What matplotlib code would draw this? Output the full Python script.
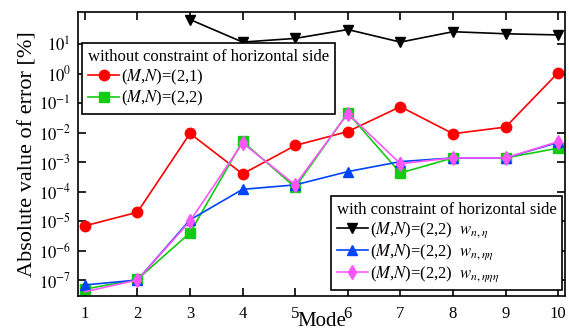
import numpy as np
import matplotlib
matplotlib.use("Agg")
import matplotlib.pyplot as plt

modes = [1, 2, 3, 4, 5, 6, 7, 8, 9, 10]
red_21 = [6.9e-6, 2.0e-5, 9.5e-3, 4.0e-4, 3.7e-3, 1.1e-2, 7.7e-2, 9.3e-3, 1.56e-2, 1.1]
green_22 = [4.9e-8, 1.05e-7, 4.0e-6, 5.1e-3, 1.4e-4, 4.7e-2, 4.3e-4, 1.4e-3, 1.4e-3, 3.0e-3]
black_eta = [np.nan, np.nan, 70, 12, 16, 32, 12, 27, 23, 21]
blue_etaeta = [6.8e-8, 1.0e-7, 1.1e-5, 1.2e-4, 1.7e-4, 4.8e-4, 1.05e-3, 1.4e-3, 1.4e-3, 4.7e-3]
mag_etaetaeta = [4.0e-8, 1.0e-7, 1.0e-5, 4.5e-3, 1.7e-4, 4.5e-2, 8.9e-4, 1.4e-3, 1.4e-3, 5.0e-3]
ytick_exps = [1, 0, -1, -2, -3, -4, -5, -6, -7]

plt.rcParams['font.family'] = ['Liberation Serif', 'DejaVu Serif']
plt.rcParams['mathtext.fontset'] = 'stix'

fig = plt.figure(figsize=(5.69, 3.34), dpi=100)
ax = fig.add_axes([0.137, 0.114, 0.856, 0.850])

lw = 1.2
ms = 7.5
l_red, = ax.plot(modes, red_21, '-o', color='#ff0000', lw=lw, ms=ms)
l_green, = ax.plot(modes, green_22, '-s', color='#11cc11', lw=lw, ms=ms)
l_black, = ax.plot(modes, black_eta, '-v', color='#000000', lw=lw, ms=ms)
l_blue, = ax.plot(modes, blue_etaeta, '-^', color='#0044ff', lw=lw, ms=ms)
l_mag, = ax.plot(modes, mag_etaetaeta, '-d', color='#ff55ff', lw=lw, ms=ms,
                 markevery=list(range(1, 10)))

ax.set_yscale('log')
ax.set_xlim(0.87, 10.13)
ax.set_ylim(10**-7.54, 10**2.1)
ax.set_xticks(modes)
ax.set_xticklabels([str(m) for m in modes])
ax.set_yticks([10.0**e for e in ytick_exps])
ax.set_yticklabels([r'$10^{%d}$' % e for e in ytick_exps])
ax.minorticks_off()
ax.tick_params(direction='in', length=6, width=1.2, top=True, right=True)
ax.tick_params(axis='x', labelsize=12, pad=7)
ax.tick_params(axis='y', labelsize=12, pad=5)
for s in ax.spines.values():
    s.set_linewidth(1.2)

ax.set_xlabel('Mode', fontsize=15, labelpad=-7)
ax.set_ylabel('Absolute value of error [%]', fontsize=16, labelpad=1)

leg_kw = dict(title_fontsize=12, fontsize=12, borderaxespad=0, fancybox=False,
              edgecolor='black', framealpha=1, handlelength=1.9, handletextpad=0.1,
              labelspacing=0.15, borderpad=0.35, alignment='left')

leg1 = ax.legend([l_red, l_green],
                 [r'($\mathit{M}$,$\mathit{N}$)=(2,1)', r'($\mathit{M}$,$\mathit{N}$)=(2,2)'],
                 title='without constraint of horizontal side',
                 loc='upper left', bbox_to_anchor=(0.008, 0.891), **leg_kw)
leg1.get_frame().set_linewidth(1.2)
ax.add_artist(leg1)

leg2 = ax.legend([l_black, l_blue, l_mag],
                 [r'($\mathit{M}$,$\mathit{N}$)=(2,2)  $w_{n,\eta}$',
                  r'($\mathit{M}$,$\mathit{N}$)=(2,2)  $w_{n,\eta\eta}$',
                  r'($\mathit{M}$,$\mathit{N}$)=(2,2)  $w_{n,\eta\eta\eta}$'],
                 title='with constraint of horizontal side',
                 loc='lower right', bbox_to_anchor=(0.994, 0.021), **leg_kw)
leg2.get_frame().set_linewidth(1.2)

fig.savefig('out.png', dpi=100)
